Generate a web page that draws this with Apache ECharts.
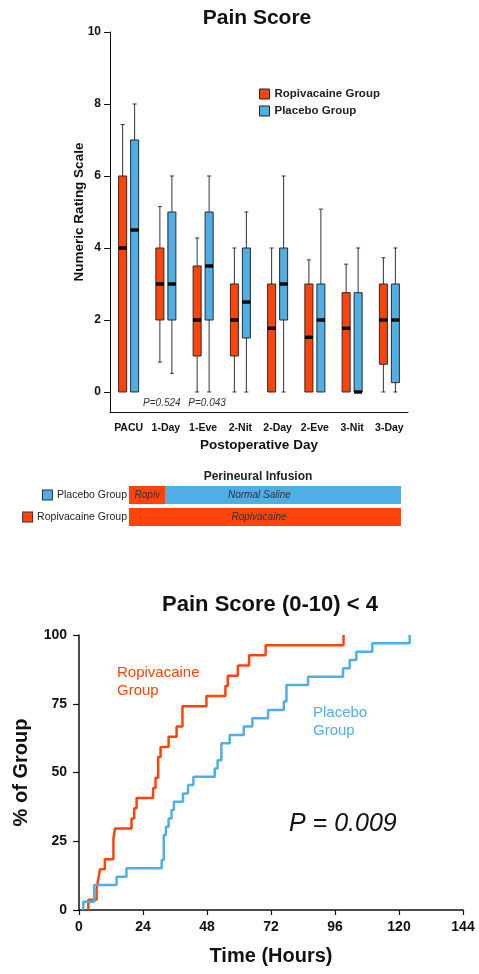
<!DOCTYPE html>
<html>
<head>
<meta charset="utf-8">
<script src="https://cdn.jsdelivr.net/npm/echarts@6/dist/echarts.min.js"></script>
<style>
  html, body { margin: 0; padding: 0; background: #fff; }
  #chart { width: 479px; height: 974px; }
</style>
</head>
<body>
<div id="chart"></div>
<script>
// ---------------- DATA ----------------
const categories = ['PACU', '1-Day', '1-Eve', '2-Nit', '2-Day', '2-Eve', '3-Nit', '3-Day'];
const yTickValues = [0, 2, 4, 6, 8, 10];
// [min, Q1, median, Q3, max]
const ropivacaineBox = [
  [0, 0, 4, 6, 7.43],
  [0.83, 2, 3, 4, 5.15],
  [0, 1, 2, 3.5, 4.28],
  [0, 1, 2, 3, 4],
  [0, 0, 1.77, 3, 4],
  [0, 0, 1.52, 3, 3.67],
  [0, 0, 1.77, 2.76, 3.55],
  [0, 0.77, 2, 3, 3.73]
];
const placeboBox = [
  [0, 0, 4.5, 7, 8],
  [0.52, 2, 3, 5, 6],
  [0, 2, 3.5, 5, 6],
  [0, 1.5, 2.5, 4, 5],
  [0, 2, 3, 4, 6],
  [0, 0, 2, 3, 5.08],
  [0, 0, 0, 2.76, 4],
  [0, 0.26, 2, 3, 4]
];
const pValueLabels = ['P=0.524', 'P=0.043'];
const pValueCats = ['1-Day', '1-Eve'];

// Perineural infusion (share of infusion period, %)
const infusionGroups = ['Ropivacaine Group', 'Placebo Group'];
const infusionRopiv = [100, 13.5];
const infusionSaline = [0, 86.5];

// Kaplan-Meier style: time (h) and cumulative % reaching pain < 4
const ropivTimes = [3.5, 6.6, 7.2, 7.9, 9.7, 12.9, 13.5, 19.7, 20.7, 21.6, 27.8, 28.7, 29.7, 30.6, 33.6, 36.6, 38.8, 47.8, 54.9, 55.8, 59.6, 63.8, 70.0, 99.2];
const ropivPct   = [3.7, 7.4, 11.1, 14.8, 18.5, 25.9, 29.6, 33.3, 37.0, 40.7, 44.4, 48.1, 55.6, 59.3, 63.0, 66.7, 74.1, 77.8, 81.5, 85.2, 88.9, 92.6, 96.3, 100];
const placeboTimes = [1.6, 5.7, 14.1, 17.8, 31.0, 31.8, 32.6, 33.6, 34.7, 35.6, 39.0, 40.9, 42.9, 50.9, 52.0, 53.4, 56.5, 61.8, 65.0, 70.9, 76.8, 77.8, 85.9, 99.0, 101.5, 104.0, 110.0, 124.0];
const placeboPct   = [3.0, 9.1, 12.1, 15.2, 18.2, 27.3, 30.3, 33.3, 36.4, 39.4, 42.4, 45.5, 48.5, 51.5, 54.5, 60.6, 63.6, 66.7, 69.7, 72.7, 75.8, 81.8, 84.8, 87.9, 90.9, 93.9, 97.0, 100];

// ---------------- STYLE ----------------
const RED = '#FF4409';
const BLUE = '#4FAEE4';
const INK = '#111';
const FONT = '"Liberation Sans", Arial, Helvetica, sans-serif';

function boxRenderer(offset, color) {
  const BW = 8, CAP = 2;
  return function (params, api) {
    const cat = api.value(0);
    const vmin = api.value(1), q1 = api.value(2), med = api.value(3), q3 = api.value(4), vmax = api.value(5);
    const x = api.coord([cat, 0])[0] + offset;
    const y = v => api.coord([cat, v])[1];
    const wStyle = { stroke: '#333', lineWidth: 1 };
    const children = [];
    if (vmax > q3) {
      children.push({ type: 'line', shape: { x1: x, y1: y(vmax), x2: x, y2: y(q3) }, style: wStyle });
      children.push({ type: 'line', shape: { x1: x - CAP, y1: y(vmax), x2: x + CAP, y2: y(vmax) }, style: wStyle });
    }
    if (vmin < q1) {
      children.push({ type: 'line', shape: { x1: x, y1: y(q1), x2: x, y2: y(vmin) }, style: wStyle });
      children.push({ type: 'line', shape: { x1: x - CAP, y1: y(vmin), x2: x + CAP, y2: y(vmin) }, style: wStyle });
    }
    children.push({ type: 'rect', shape: { x: x - BW / 2, y: y(q3), width: BW, height: y(q1) - y(q3) },
      style: { fill: color, stroke: '#2a2a2a', lineWidth: 1 } });
    children.push({ type: 'rect', shape: { x: x - BW / 2, y: y(med) - 1.7, width: BW, height: 3.4 },
      style: { fill: '#000' } });
    return { type: 'group', children };
  };
}

function kmData(times, pct) {
  const d = [[times[0], 0]];
  times.forEach((t, i) => d.push([t, pct[i]]));
  return d;
}

const chart = echarts.init(document.getElementById('chart'), null, { renderer: 'canvas' });

const option = {
  animation: false,
  backgroundColor: '#fff',
  textStyle: { fontFamily: FONT },
  title: [
    { text: 'Pain Score', left: 257, top: 8, padding: 0, textAlign: 'center',
      textStyle: { fontSize: 21, fontWeight: 'bold', color: INK, fontFamily: FONT } },
    { text: 'Perineural Infusion', left: 258, top: 471, padding: 0, textAlign: 'center',
      textStyle: { fontSize: 12, fontWeight: 'bold', color: '#222', fontFamily: FONT } },
    { text: 'Pain Score (0-10) < 4', left: 270, top: 594, padding: 0, textAlign: 'center',
      textStyle: { fontSize: 22, fontWeight: 'bold', color: INK, fontFamily: FONT } }
  ],
  legend: {
    data: ['Ropivacaine Group', 'Placebo Group'],
    orient: 'vertical',
    left: 259, top: 88,
    padding: 0,
    itemWidth: 10, itemHeight: 10, itemGap: 5,
    icon: 'rect',
    itemStyle: { borderColor: '#222', borderWidth: 1 },
    textStyle: { fontSize: 11.5, fontWeight: 'bold', color: '#222', fontFamily: FONT },
    selectedMode: false
  },
  grid: [
    { left: 110, top: 32, width: 298, height: 380 },
    { left: 129, top: 484, width: 272, height: 44 },
    { left: 79, top: 635, width: 384, height: 275 }
  ],
  xAxis: [
    { gridIndex: 0, type: 'category', data: categories, boundaryGap: true,
      axisLine: { onZero: false, lineStyle: { color: INK, width: 1 } },
      axisTick: { alignWithLabel: true, length: 5, lineStyle: { color: INK } },
      axisLabel: { fontSize: 10.5, fontWeight: 'bold', color: INK, margin: 11, interval: 0 },
      name: 'Postoperative Day', nameLocation: 'middle', nameGap: 26, nameMoveOverlap: false,
      nameTextStyle: { fontSize: 13.5, fontWeight: 'bold', color: INK } },
    { gridIndex: 1, type: 'value', min: 0, max: 100, show: false },
    { gridIndex: 2, type: 'value', min: 0, max: 144, interval: 24,
      axisLine: { onZero: false, lineStyle: { color: INK, width: 1.5 } },
      axisTick: { length: 5, lineStyle: { color: INK, width: 1.2 } },
      splitLine: { show: false },
      axisLabel: { fontSize: 14, fontWeight: 'bold', color: INK, margin: 10 },
      name: 'Time (Hours)', nameLocation: 'middle', nameGap: 36, nameMoveOverlap: false,
      nameTextStyle: { fontSize: 20, fontWeight: 'bold', color: INK } }
  ],
  yAxis: [
    { gridIndex: 0, type: 'value', min: -0.5556, max: 10,
      axisLine: { show: true, onZero: false, lineStyle: { color: INK, width: 1 } },
      axisTick: { show: true, length: 6, customValues: yTickValues, lineStyle: { color: INK } },
      axisLabel: { fontSize: 12, fontWeight: 'bold', color: INK, margin: 9, customValues: yTickValues },
      splitLine: { show: false },
      name: 'Numeric Rating Scale', nameLocation: 'middle', nameGap: 24, nameMoveOverlap: false,
      nameTextStyle: { fontSize: 13.5, fontWeight: 'bold', color: INK, padding: [0, 0, 0, 20] } },
    { gridIndex: 1, type: 'category', data: infusionGroups,
      axisLine: { show: false }, axisTick: { show: false },
      axisLabel: {
        margin: 2,
        formatter: v => v === 'Placebo Group' ? '{pb|}{t|' + v + '}' : '{rb|}{t|' + v + '}',
        rich: {
          pb: { width: 9, height: 9, backgroundColor: BLUE, borderColor: '#333', borderWidth: 1 },
          rb: { width: 9, height: 9, backgroundColor: RED, borderColor: '#333', borderWidth: 1 },
          t: { fontSize: 10.5, color: '#222', padding: [0, 0, 0, 5], fontFamily: FONT }
        }
      } },
    { gridIndex: 2, type: 'value', min: 0, max: 100, interval: 25,
      axisLine: { show: true, onZero: false, lineStyle: { color: INK, width: 1.5 } },
      axisTick: { show: true, length: 6, lineStyle: { color: INK, width: 1.2 } },
      splitLine: { show: false },
      axisLabel: { fontSize: 14, fontWeight: 'bold', color: INK, margin: 12 },
      name: '% of Group', nameLocation: 'middle', nameGap: 48, nameMoveOverlap: false,
      nameTextStyle: { fontSize: 20, fontWeight: 'bold', color: INK } }
  ],
  series: [
    { name: 'Ropivacaine Group', type: 'custom', xAxisIndex: 0, yAxisIndex: 0,
      renderItem: boxRenderer(-6, RED),
      itemStyle: { color: RED },
      encode: { x: 0, y: [1, 2, 3, 4, 5] },
      data: ropivacaineBox.map((b, i) => [i].concat(b)),
      markPoint: {
        symbol: 'circle', symbolSize: 0,
        label: { show: true, fontSize: 10, fontStyle: 'italic', color: '#333', position: 'inside' },
        data: pValueLabels.map((t, i) => ({ coord: [pValueCats[i], -0.3], value: t,
          label: { formatter: t, offset: [i === 0 ? -4 : 4, 0] } }))
      }
    },
    { name: 'Placebo Group', type: 'custom', xAxisIndex: 0, yAxisIndex: 0,
      renderItem: boxRenderer(6, BLUE),
      itemStyle: { color: BLUE },
      encode: { x: 0, y: [1, 2, 3, 4, 5] },
      data: placeboBox.map((b, i) => [i].concat(b)) },
    { name: 'Ropiv infusion', type: 'bar', xAxisIndex: 1, yAxisIndex: 1, stack: 'inf', barWidth: 18,
      itemStyle: { color: RED },
      label: { show: true, position: 'inside', fontSize: 10, fontStyle: 'italic', color: '#2d3340',
        formatter: p => p.dataIndex === 0 ? 'Ropivacaine' : 'Ropiv' },
      labelLayout: p => p.dataIndex === 0 ? { dx: -6 } : { dx: 0 },
      data: infusionRopiv },
    { name: 'Saline infusion', type: 'bar', xAxisIndex: 1, yAxisIndex: 1, stack: 'inf', barWidth: 18,
      itemStyle: { color: BLUE },
      label: { show: true, position: 'inside', fontSize: 10, fontStyle: 'italic', color: '#2d3340',
        formatter: p => p.value > 0 ? 'Normal Saline' : '' },
      labelLayout: { dx: -24 },
      data: infusionSaline },
    { name: 'Ropivacaine KM', type: 'line', xAxisIndex: 2, yAxisIndex: 2, step: 'end',
      symbol: 'none', lineStyle: { color: RED, width: 2.5 }, itemStyle: { color: RED },
      data: kmData(ropivTimes, ropivPct) },
    { name: 'Placebo KM', type: 'line', xAxisIndex: 2, yAxisIndex: 2, step: 'end',
      symbol: 'none', lineStyle: { color: BLUE, width: 2.5 }, itemStyle: { color: BLUE },
      data: kmData(placeboTimes, placeboPct) }
  ],
  graphic: [
    { type: 'text', left: 117, top: 664,
      style: { text: 'Ropivacaine\nGroup', fill: RED, fontSize: 15, lineHeight: 18, fontFamily: FONT } },
    { type: 'text', left: 313, top: 704,
      style: { text: 'Placebo\nGroup', fill: BLUE, fontSize: 15, lineHeight: 18, fontFamily: FONT } },
    { type: 'text', left: 289, top: 812,
      style: { text: 'P = 0.009', fill: '#111', fontSize: 25, fontStyle: 'italic', fontFamily: FONT } }
  ]
};

chart.setOption(option);
</script>
</body>
</html>
